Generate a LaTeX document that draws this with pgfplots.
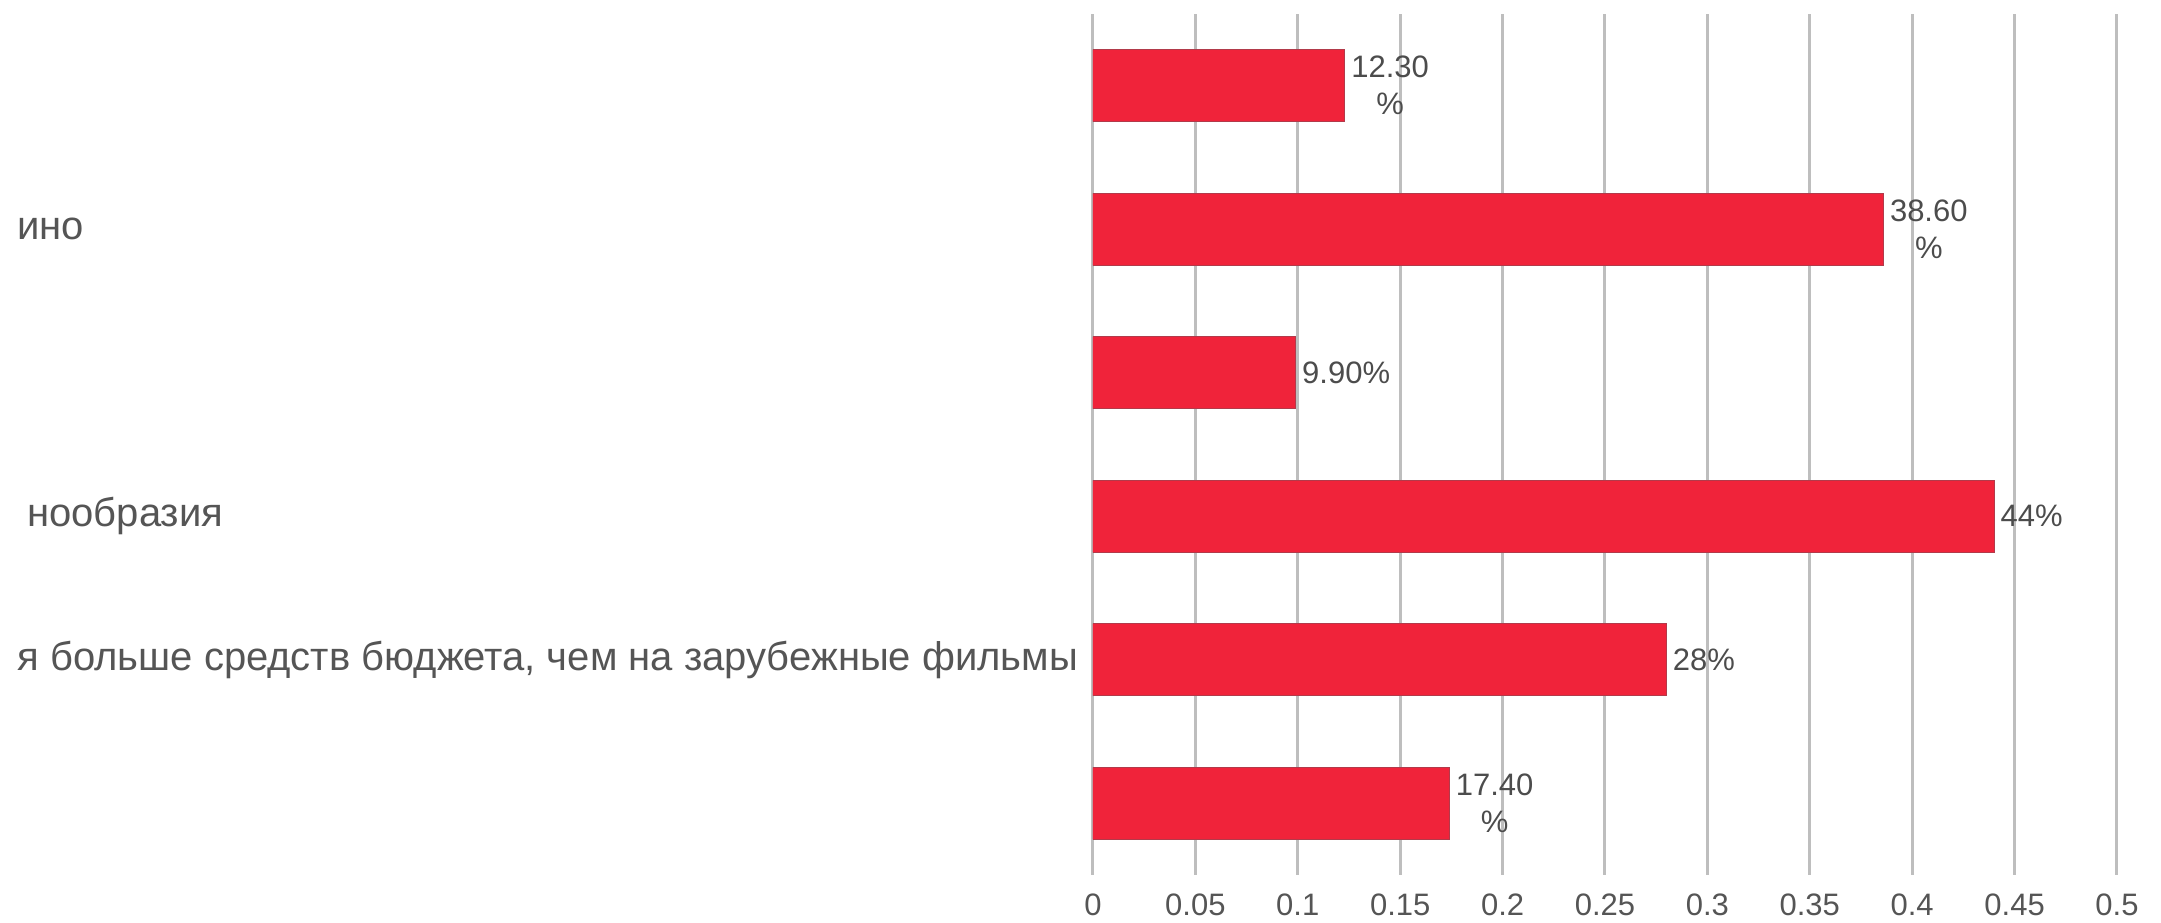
\documentclass[border=0pt]{standalone}
\usepackage{fontspec}
\setmainfont{Liberation Sans}
\usepackage{pgfplots}
\pgfplotsset{compat=1.18}

\definecolor{barred}{HTML}{F0233A}
\definecolor{baredge}{HTML}{B23A4A}
\definecolor{gridgray}{HTML}{BEBEBE}
\definecolor{txtgray}{HTML}{555555}

\begin{document}
\begin{tikzpicture}
\begin{axis}[
name=ax,
scale only axis,
width=512pt, height=430.5pt,
xmin=0, xmax=0.5,
ymin=-0.5, ymax=5.5,
y dir=reverse,
xtick={0,0.05,0.1,0.15,0.2,0.25,0.3,0.35,0.4,0.45,0.5},
xticklabels={0,0.05,0.1,0.15,0.2,0.25,0.3,0.35,0.4,0.45,0.5},
ytick={0,1,2,3,4,5},
yticklabels={{},{ино},{},{\hspace*{5pt}нообразия},{я больше средств бюджета, чем на зарубежные фильмы},{}},
xmajorgrids=true,
grid style={gridgray, line width=1.5pt},
axis line style={draw=none},
major tick length=0pt,
xticklabel style={font=\fontsize{15.5}{18.5}\selectfont, text=txtgray, yshift=-6pt},
yticklabel style={font=\fontsize{20}{24}\selectfont, text=txtgray, anchor=west,
  inner xsep=0pt, xshift=-538pt},
/pgf/number format/assume math mode=true,
xbar, bar width=0.5,
nodes near coords,
point meta=explicit symbolic,
every node near coord/.append style={font=\fontsize{15.5}{18.5}\selectfont, text=black!70, align=center, anchor=west, inner xsep=3pt},
]
\addplot[fill=barred, draw=baredge, line width=0.5pt]
coordinates {(0.123,0) [12.30\\\%] (0.386,1) [38.60\\\%] (0.099,2) [9.90\%] (0.44,3) [44\%] (0.28,4) [28\%] (0.174,5) [17.40\\\%]};
\end{axis}
\pgfresetboundingbox
\useasboundingbox ([xshift=-546.5pt,yshift=-23.5pt]ax.south west) rectangle ([xshift=22pt,yshift=7pt]ax.north east);
\end{tikzpicture}
\end{document}
